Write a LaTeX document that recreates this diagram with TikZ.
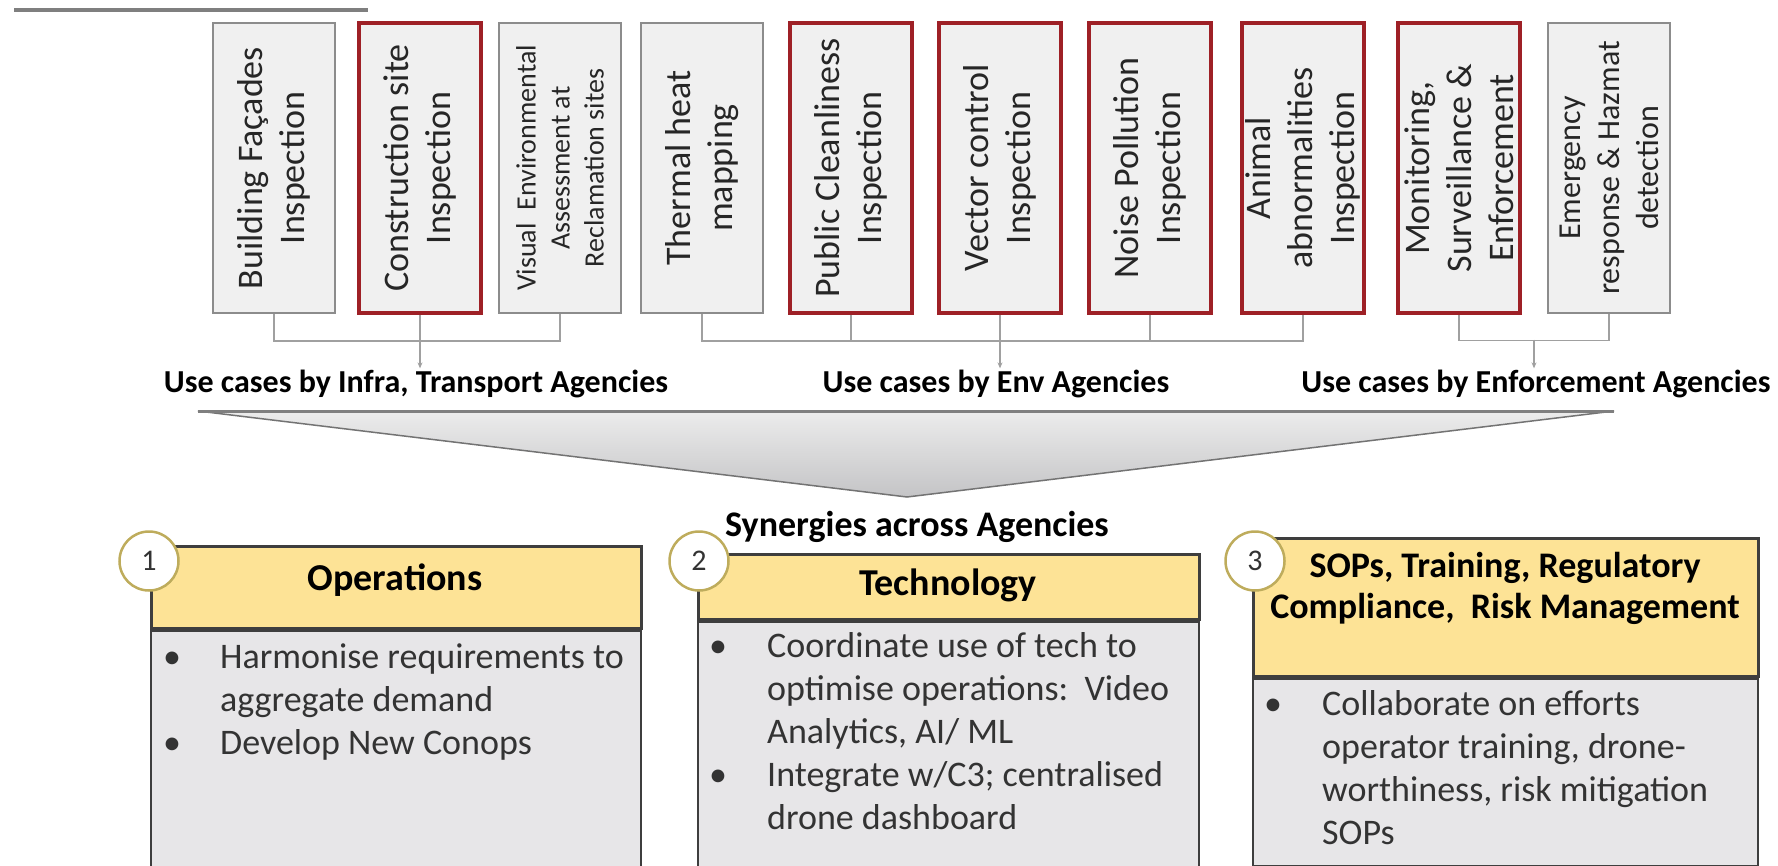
\documentclass[tikz,border=0pt]{standalone}
\usepackage{fontspec}
\setmainfont{Carlito}
\usepackage{tikz}
\usetikzlibrary{arrows.meta,calc,positioning}

\definecolor{ucred}{RGB}{158,32,38}
\definecolor{boxline}{RGB}{140,140,140}
\definecolor{boxfill}{RGB}{240,240,240}
\definecolor{connline}{RGB}{160,160,160}
\definecolor{toprule}{RGB}{127,127,127}
\definecolor{chevtop}{RGB}{236,236,236}
\definecolor{chevbot}{RGB}{196,196,198}
\definecolor{hdryellow}{RGB}{253,227,150}
\definecolor{bodygray}{RGB}{231,230,232}
\definecolor{panelline}{RGB}{62,62,62}
\definecolor{circline}{RGB}{190,172,92}

\begin{document}
    \begin{tikzpicture}[x=1pt,y=-1pt,
        gbox/.style={draw=boxline,line width=2pt,fill=boxfill,minimum width=122pt,minimum height=290pt,inner sep=0pt},
        rbox/.style={gbox,draw=ucred,line width=4.5pt},
        vtext/.style={rotate=90,align=center,inner sep=0pt,text=black!85,font=\fontsize{36}{42}\selectfont},
        vbig/.style={},
        vmid/.style={font=\fontsize{32}{39}\selectfont},
        vsmall/.style={font=\fontsize{28}{34}\selectfont},
        conn/.style={draw=connline,line width=1.5pt},
        ucarrow/.style={conn,-{Stealth[length=6pt,width=5pt]}},
        uclabel/.style={anchor=base,inner sep=1pt,font=\bfseries\fontsize{32}{38}\selectfont},
        hdr/.style={draw=panelline,line width=2.5pt,fill=hdryellow,anchor=north west,inner sep=0pt},
        panel/.style={draw=panelline,line width=2pt,fill=bodygray,anchor=north west,inner sep=0pt},
        htext/.style={anchor=base,inner sep=0pt,font=\bfseries\fontsize{38}{42}\selectfont},
        btext/.style={anchor=base west,inner sep=0pt,text=black!80,font=\fontsize{36}{43}\selectfont},
        numcirc/.style={circle,draw=circline,line width=2.5pt,fill=white,minimum size=59pt,inner sep=0pt,text=black!80,font=\fontsize{30}{30}\selectfont}]
        \useasboundingbox (0,0) rectangle (1778,865);
        \draw [line width=4pt,draw=toprule] (14,10) -- (368,10);
        \foreach \n/\x/\kind/\sz/\txt in {
            1/274/gbox/vbig/{Building Façades\\Inspection},
            2/420/rbox/vbig/{Construction site\\Inspection},
            3/560/gbox/vsmall/{Visual\ \ Environmental\\Assessment at\\Reclamation sites},
            4/702/gbox/vbig/{Thermal heat\\mapping},
            5/851/rbox/vbig/{Public Cleanliness\\Inspection},
            6/1000/rbox/vbig/{Vector control\\Inspection},
            7/1150/rbox/vbig/{Noise Pollution\\Inspection},
            8/1303/rbox/vbig/{Animal\\abnormalities\\Inspection},
            9/1459/rbox/vbig/{Monitoring,\\Surveillance \&\\Enforcement},
            10/1609/gbox/vmid/{Emergency\\response \& Hazmat\\detection}}
        {
            \node (b\n) [\kind] at (\x,168) {};
            \node (t\n) [vtext,\sz] at (b\n) {\txt};
        }
        \node (l1) [uclabel] at (416,392) {Use cases by Infra, Transport Agencies};
        \node (l2) [uclabel] at (996,392) {Use cases by Env Agencies};
        \node (l3) [uclabel] at (1536,392) {Use cases by Enforcement Agencies};
        \draw [conn] (b1.south) -- ++(0,27) -| (b3.south);
        \draw [ucarrow] (b2.south) -- (b2.south |- l1.north);
        \draw [conn] (b4.south) -- ++(0,27) -| (b8.south);
        \draw [conn] (b5.south) -- ++(0,27);
        \draw [conn] (b7.south) -- ++(0,27);
        \draw [ucarrow] (b6.south) -- (b6.south |- l2.north);
        \draw [conn] (b9.south) -- ++(0,25) -| (b10.south);
        \coordinate (ej) at ($(b9.south)!0.5!(b10.south)+(0,25)$);
        \draw [ucarrow] (ej) -- (ej |- l3.north);
        \draw [draw=black!55,line width=1.5pt,top color=chevtop,bottom color=chevbot] (198,411) -- (1614,411) -- (907,497) -- cycle;
        \draw [line width=3pt,draw=toprule] (198,411) -- (1614,411);
        \node (syn) [uclabel,font=\bfseries\fontsize{36}{40}\selectfont] at (917,536) {Synergies across Agencies};
        \node (h1) [hdr,minimum width=490pt,minimum height=82pt] at (150,545) {};
        \node (p1) [panel,minimum width=490pt,minimum height=245pt] at (h1.south west) {};
        \node (h2) [hdr,minimum width=501pt,minimum height=65pt] at (697,553) {};
        \node (p2) [panel,minimum width=501pt,minimum height=252pt] at (h2.south west) {};
        \node (h3) [hdr,minimum width=505pt,minimum height=138pt] at (1252,537) {};
        \node (p3) [panel,minimum width=505pt,minimum height=187pt] at (h3.south west) {};
        \node (c1) [numcirc] at (149,561) {1};
        \node (c2) [numcirc] at (699,561) {2};
        \node (c3) [numcirc] at (1255,561) {3};
        \node (o1) [htext] at (395,590) {Operations};
        \node (o2) [htext] at (948,595) {Technology};
        \node (o3) [htext,font=\bfseries\fontsize{36}{41}\selectfont] at (1505,577)
            {\begin{tabular}[t]{@{}c@{}}SOPs, Training, Regulatory\\Compliance,\ \ Risk Management\end{tabular}};
        \node (x1) [btext] at (163,668)
            {\begin{tabular}[t]{@{}p{57pt}@{}l@{}}\textbullet & Harmonise requirements to\\ & aggregate demand\\ \textbullet & Develop New Conops\end{tabular}};
        \node (x2) [btext] at (709,657)
            {\begin{tabular}[t]{@{}p{58pt}@{}l@{}}\textbullet & Coordinate use of tech to\\ & optimise operations:\ \ Video\\ & Analytics, AI/ ML\\ \textbullet & Integrate w/C3; centralised\\ & drone dashboard\end{tabular}};
        \node (x3) [btext] at (1264,715)
            {\begin{tabular}[t]{@{}p{58pt}@{}l@{}}\textbullet & Collaborate on efforts\\ & operator training, drone-\\ & worthiness, risk mitigation\\ & SOPs\end{tabular}};
    \end{tikzpicture}
\end{document}
